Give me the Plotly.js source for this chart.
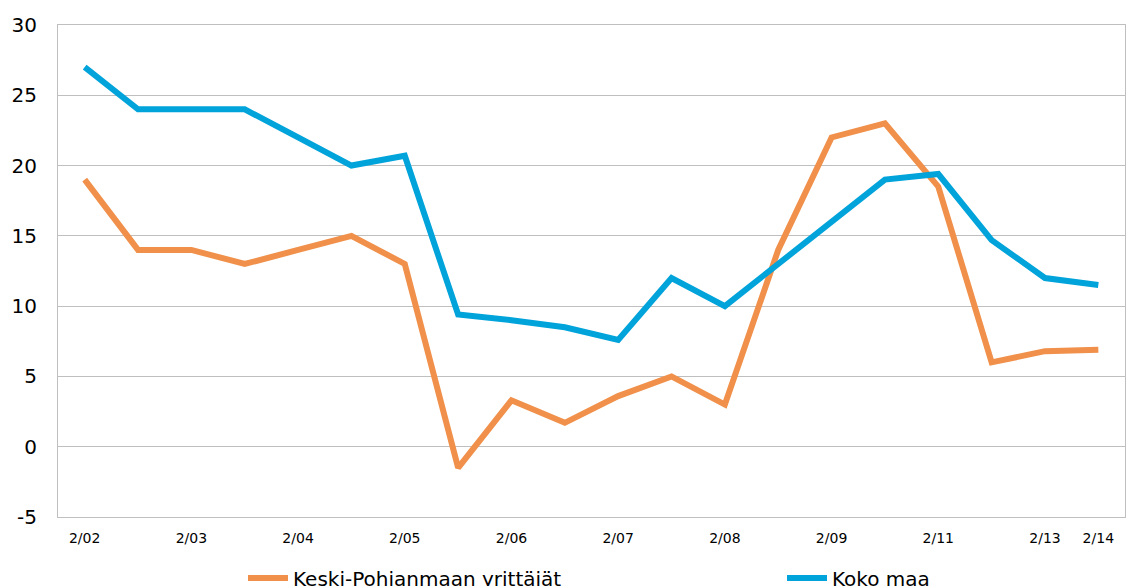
<!DOCTYPE html>
<html>
<head>
<meta charset="utf-8">
<script src="https://cdn.plot.ly/plotly-3.0.1.min.js"></script>
<style>html,body{margin:0;padding:0;background:#fff;}#chart{width:1131px;height:586px;}</style>
</head>
<body>
<div id="chart"></div>
<script>
const periods = ["2/02","8/02","2/03","8/03","2/04","8/04","2/05","8/05","2/06","8/06","2/07","8/07","2/08","8/08","2/09","8/09","2/11","8/11","2/13","2/14"];
const shownLabels = ["2/02","","2/03","","2/04","","2/05","","2/06","","2/07","","2/08","","2/09","","2/11","","2/13","2/14"];
const keskiPohjanmaa = [19, 14, 14, 13, 14, 15, 13, -1.5, 3.3, 1.7, 3.6, 5, 3, 14, 22, 23, 18.5, 6, 6.8, 6.9];
const kokoMaa = [27, 24, 24, 24, 22, 20, 20.7, 9.4, 9.0, 8.5, 7.6, 12, 10, 13, 16, 19, 19.4, 14.7, 12, 11.5];
const seriesNames = ["Keski-Pohjanmaan yrittäjät", "Koko maa"];
const yTicks = [-5, 0, 5, 10, 15, 20, 25, 30];

const idx = periods.map((_, i) => i);
const tickvals = [], ticktext = [];
shownLabels.forEach((t, i) => { if (t) { tickvals.push(i); ticktext.push(t); } });

const font = "DejaVu Sans, Verdana, sans-serif";
const traces = [
  {x: idx, y: keskiPohjanmaa, name: seriesNames[0], type: "scatter", mode: "lines",
   line: {color: "#F0904A", width: 6}, legend: "legend"},
  {x: idx, y: kokoMaa, name: seriesNames[1], type: "scatter", mode: "lines",
   line: {color: "#00A3DA", width: 6}, legend: "legend2"}
];
const legFont = {family: font, size: 20, color: "#000"};
const layout = {
  width: 1131, height: 586,
  margin: {l: 58, r: 6, t: 25, b: 69, autoexpand: false},
  paper_bgcolor: "#fff", plot_bgcolor: "#fff",
  showlegend: true,
  legend: {orientation: "h", x: (243 - 58) / 1067, xanchor: "left", y: -0.124, yanchor: "middle",
    font: legFont, itemwidth: 40, bgcolor: "rgba(0,0,0,0)"},
  legend2: {orientation: "h", x: (782 - 58) / 1067, xanchor: "left", y: -0.124, yanchor: "middle",
    font: legFont, itemwidth: 40, bgcolor: "rgba(0,0,0,0)"},
  xaxis: {range: [-0.5, 19.5], tickvals: tickvals, ticktext: ticktext, showgrid: false,
    zeroline: false, showline: true, mirror: true, linecolor: "#BFBFBF", linewidth: 1,
    ticks: "", tickfont: {family: font, size: 14, color: "#000"}, ticklabelstandoff: 8},
  yaxis: {range: [-5, 30], tickvals: yTicks, ticktext: yTicks.map(v => String(v)),
    showgrid: true, gridcolor: "#BFBFBF", gridwidth: 1,
    zeroline: false, showline: true, mirror: true, linecolor: "#BFBFBF", linewidth: 1,
    ticks: "", tickfont: {family: font, size: 20, color: "#000"}, ticklabelstandoff: 16}
};
Plotly.newPlot("chart", traces, layout, {displayModeBar: false, staticPlot: true});
</script>
</body>
</html>
